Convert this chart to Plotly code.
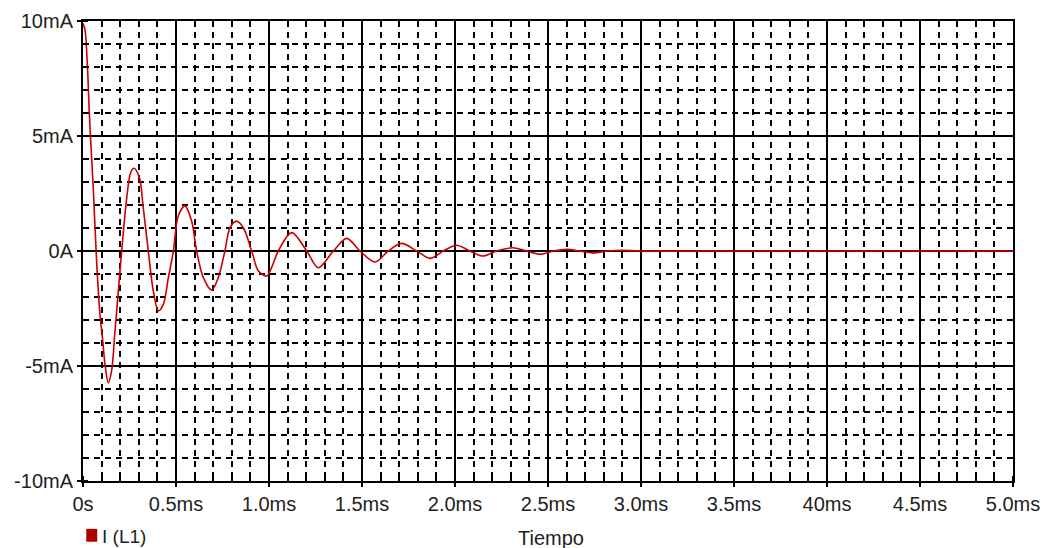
import plotly.graph_objects as go

# Time (ms) and current (mA)
t_ms = [0.0, 0.011, 0.024, 0.034, 0.040, 0.055, 0.074, 0.091, 0.106, 0.118, 0.136, 0.154, 0.172,
        0.199, 0.208, 0.235, 0.256, 0.274, 0.303, 0.324, 0.351, 0.378, 0.405, 0.432, 0.459,
        0.486, 0.512, 0.548, 0.584, 0.611, 0.647, 0.692, 0.727, 0.763, 0.790, 0.826, 0.862,
        0.907, 0.943, 0.988, 1.014, 1.050, 1.122, 1.203, 1.265, 1.346, 1.418, 1.489, 1.570,
        1.641, 1.713, 1.794, 1.866, 1.937, 2.009, 2.080, 2.150, 2.224, 2.310, 2.385, 2.460,
        2.528, 2.600, 2.670, 2.740, 2.820, 2.900, 3.000, 3.500, 4.000, 4.500, 5.000]
i_ma = [9.9, 9.6, 8.0, 6.0, 5.0, 2.75, -0.57, -2.74, -3.9, -4.9, -5.73, -5.2, -3.48,
        -0.87, 0.0, 2.3, 3.4, 3.6, 3.19, 1.88, 0.0, -1.74, -2.6, -2.32, -1.16,
        0.0, 1.52, 1.96, 1.3, 0.0, -1.16, -1.7, -1.16, 0.0, 1.01, 1.3, 1.01,
        0.0, -0.87, -1.09, -0.72, 0.0, 0.8, 0.0, -0.73, 0.0, 0.55, 0.0, -0.48,
        0.0, 0.33, 0.0, -0.32, 0.0, 0.25, 0.0, -0.22, 0.0, 0.14, 0.0, -0.14,
        0.0, 0.07, 0.0, -0.08, 0.0, 0.03, 0.0, 0.0, 0.0, 0.0, 0.0]

x_tick_vals = [0, 0.5, 1.0, 1.5, 2.0, 2.5, 3.0, 3.5, 4.0, 4.5, 5.0]
x_tick_text = ["0s", "0.5ms", "1.0ms", "1.5ms", "2.0ms", "2.5ms", "3.0ms", "3.5ms", "40ms", "4.5ms", "5.0ms"]
y_tick_vals = [10, 5, 0, -5, -10]
y_tick_text = ["10mA", "5mA", "0A", "-5mA", "-10mA"]

FONT = "Liberation Sans"
TXT = "#222222"

fig = go.Figure()
fig.add_trace(go.Scatter(
    x=t_ms, y=i_ma, mode="lines",
    line=dict(color="#cc0000", width=1.6, shape="spline", smoothing=0.9),
    name="I (L1)", showlegend=False, hoverinfo="x+y",
))

axis_common = dict(
    showline=True, linecolor="black", linewidth=2, mirror=True,
    showgrid=True, gridcolor="black", gridwidth=1.8,
    zeroline=False,
    ticks="outside", ticklen=4, tickcolor="black", tickwidth=1.5,
    tickfont=dict(family=FONT, size=20, color=TXT),
)

fig.update_xaxes(
    range=[0, 5], tickmode="array", tickvals=x_tick_vals, ticktext=x_tick_text,
    minor=dict(dtick=0.1, showgrid=True, gridcolor="black", gridwidth=1.6,
               griddash="6px,5px", ticks="inside", ticklen=5, tickcolor="black", tickwidth=1.5),
    ticklabelstandoff=0,
    **axis_common,
)
fig.update_yaxes(
    range=[-10, 10], tickmode="array", tickvals=y_tick_vals, ticktext=y_tick_text,
    minor=dict(dtick=1, showgrid=True, gridcolor="black", gridwidth=1.6,
               griddash="6px,5px", ticks="inside", ticklen=5, tickcolor="black", tickwidth=1.5),
    ticklabelstandoff=0,
    **axis_common,
)

fig.update_layout(
    width=1049, height=548,
    margin=dict(l=83, r=36, t=21, b=67, autoexpand=False),
    paper_bgcolor="white", plot_bgcolor="white",
    showlegend=False,
    annotations=[
        dict(text="Tiempo", xref="paper", yref="paper", x=0.503, y=-0.124,
             xanchor="center", yanchor="middle", showarrow=False,
             font=dict(family=FONT, size=20, color=TXT)),
        dict(text="I (L1)", xref="paper", yref="paper", x=0.0185, y=-0.121,
             xanchor="left", yanchor="middle", showarrow=False,
             font=dict(family=FONT, size=19, color=TXT)),
    ],
    shapes=[
        dict(type="rect", xref="paper", yref="paper",
             x0=0.0035, x1=0.0153, y0=-0.132, y1=-0.104,
             fillcolor="#b00000", line=dict(width=0)),
    ],
)

fig.write_html("out.html")
